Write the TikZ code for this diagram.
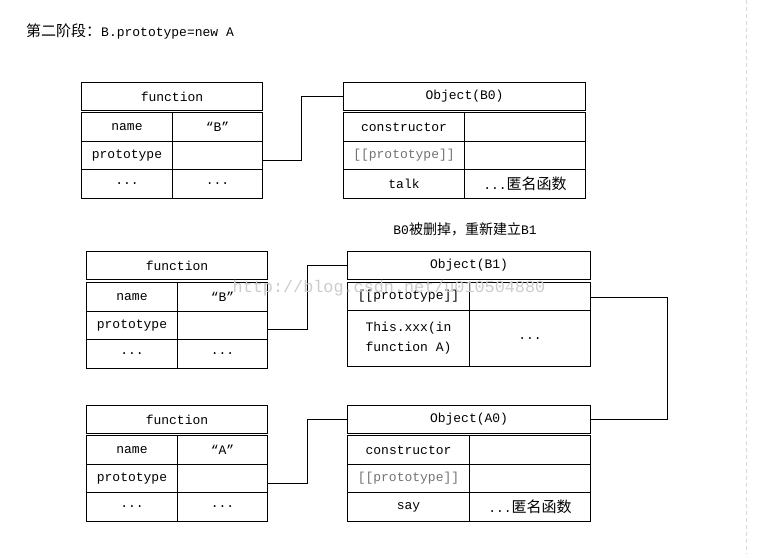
\documentclass[tikz,border=0pt]{standalone}
\usepackage{fontspec}
\setmainfont{Liberation Mono}
\newfontfamily\cjk{Noto Sans CJK SC}
\begin{document}
\begin{tikzpicture}[x=1pt,y=-1pt,
  cell/.style={draw, line width=1pt, anchor=north west, inner sep=0pt, align=center,
    font=\fontsize{13}{20}\selectfont},
  conn/.style={draw, line width=1pt},
  grayt/.style={text=black!55},
  cjkt/.style={font=\fontsize{13}{20}\selectfont}
]
\fill[white] (0,0) rectangle (759,554);
\useasboundingbox (0,0) rectangle (759,554);

% faint page edge
\coordinate (e1) at (746,0);
\coordinate (e2) at (746,554);
\draw[black!15, line width=1pt, dash pattern=on 4pt off 3pt] (e1) -- (e2);

% title
\node[anchor=west, inner sep=0pt, font=\fontsize{13}{16}\selectfont] (title) at (26,32)
  {{\cjk\fontsize{15}{16}\selectfont 第二阶段：}B.prototype=new A};

% ---------- top: function B ----------
\node[cell, minimum width=181pt, minimum height=28pt] (th) at (81,82) {function};
\node[cell, minimum width=91pt, minimum height=29pt] (tn1) at (81,112) {name};
\node[cell, minimum width=90pt, minimum height=29pt] (tn2) at (172,112) {“B”};
\node[cell, minimum width=91pt, minimum height=28pt] (tp1) at (81,141) {prototype};
\node[cell, minimum width=90pt, minimum height=28pt] (tp2) at (172,141) {};
\node[cell, minimum width=91pt, minimum height=29pt] (td1) at (81,169) {...};
\node[cell, minimum width=90pt, minimum height=29pt] (td2) at (172,169) {...};

% ---------- top: Object(B0) ----------
\node[cell, minimum width=242pt, minimum height=28pt] (oh) at (343,82) {Object(B0)};
\node[cell, minimum width=121pt, minimum height=29pt] (oc1) at (343,112) {constructor};
\node[cell, minimum width=121pt, minimum height=29pt] (oc2) at (464,112) {};
\node[cell, grayt, minimum width=121pt, minimum height=28pt] (op1) at (343,141) {[[prototype]]};
\node[cell, minimum width=121pt, minimum height=28pt] (op2) at (464,141) {};
\node[cell, minimum width=121pt, minimum height=29pt] (ot1) at (343,169) {talk};
\node[cell, minimum width=121pt, minimum height=29pt] (ot2) at (464,169) {...{\cjk\fontsize{15}{20}\selectfont 匿名函数}};

\draw[conn] ([yshift=-5pt]tp2.east) -- ++(38,0) |- (oh.west);

% note
\node[font=\fontsize{13}{16}\selectfont] (note) at (465,229)
  {B0{\cjk\fontsize{14}{16}\selectfont 被删掉，重新建立}B1};

% ---------- middle: function B ----------
\node[cell, minimum width=181pt, minimum height=28pt] (mh) at (86,251) {function};
\node[cell, minimum width=91pt, minimum height=29pt] (mn1) at (86,282) {name};
\node[cell, minimum width=90pt, minimum height=29pt] (mn2) at (177,282) {“B”};
\node[cell, minimum width=91pt, minimum height=28pt] (mp1) at (86,311) {prototype};
\node[cell, minimum width=90pt, minimum height=28pt] (mp2) at (177,311) {};
\node[cell, minimum width=91pt, minimum height=29pt] (md1) at (86,339) {...};
\node[cell, minimum width=90pt, minimum height=29pt] (md2) at (177,339) {...};

% ---------- middle: Object(B1) ----------
\node[cell, minimum width=243pt, minimum height=28pt] (bh) at (347,251) {Object(B1)};
\node[cell, minimum width=122pt, minimum height=28pt] (bp1) at (347,282) {[[prototype]]};
\node[cell, minimum width=121pt, minimum height=28pt] (bp2) at (469,282) {};
\node[cell, minimum width=122pt, minimum height=56pt] (bx1) at (347,310) {This.xxx(in\\function A)};
\node[cell, minimum width=121pt, minimum height=56pt] (bx2) at (469,310) {...};

\draw[conn] ([yshift=-4pt]mp2.east) -- ++(39,0) |- (bh.west);

% ---------- bottom: function A ----------
\node[cell, minimum width=181pt, minimum height=28pt] (fh) at (86,405) {function};
\node[cell, minimum width=91pt, minimum height=29pt] (fn1) at (86,435) {name};
\node[cell, minimum width=90pt, minimum height=29pt] (fn2) at (177,435) {“A”};
\node[cell, minimum width=91pt, minimum height=28pt] (fp1) at (86,464) {prototype};
\node[cell, minimum width=90pt, minimum height=28pt] (fp2) at (177,464) {};
\node[cell, minimum width=91pt, minimum height=29pt] (fd1) at (86,492) {...};
\node[cell, minimum width=90pt, minimum height=29pt] (fd2) at (177,492) {...};

% ---------- bottom: Object(A0) ----------
\node[cell, minimum width=243pt, minimum height=28pt] (ah) at (347,405) {Object(A0)};
\node[cell, minimum width=122pt, minimum height=29pt] (ac1) at (347,435) {constructor};
\node[cell, minimum width=121pt, minimum height=29pt] (ac2) at (469,435) {};
\node[cell, grayt, minimum width=122pt, minimum height=28pt] (ap1) at (347,464) {[[prototype]]};
\node[cell, minimum width=121pt, minimum height=28pt] (ap2) at (469,464) {};
\node[cell, minimum width=122pt, minimum height=29pt] (as1) at (347,492) {say};
\node[cell, minimum width=121pt, minimum height=29pt] (as2) at (469,492) {...{\cjk\fontsize{15}{20}\selectfont 匿名函数}};

\draw[conn] ([yshift=-5pt]fp2.east) -- ++(39,0) |- (ah.west);
\draw[conn] ([yshift=-1pt]bp2.east) -- ++(76,0) |- (ah.east);

% watermark
\node[text=black!20, inner sep=0pt, font=\fontsize{16.8}{17}\selectfont] (wm) at (389,288)
  {http://blog.csdn.net/u010504880};
\end{tikzpicture}
\end{document}
